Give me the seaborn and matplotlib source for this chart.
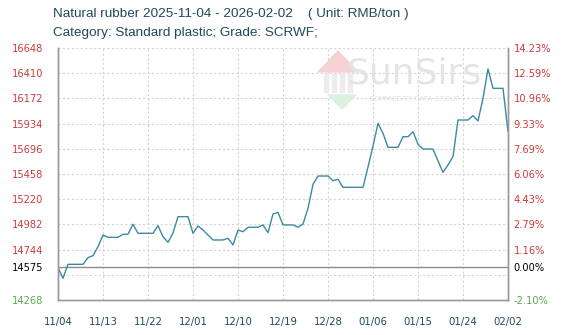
import matplotlib
matplotlib.use("Agg")
import matplotlib.pyplot as plt
import seaborn as sns
import pandas as pd
from matplotlib.patches import Polygon, Rectangle

# ---------------- data ----------------
start_date = "2025-11-04"
end_date = "2026-02-02"
prices = [
    14575, 14473, 14605, 14605, 14605, 14605, 14668, 14687, 14771, 14882,
    14860, 14860, 14860, 14889, 14889, 14983, 14898, 14898, 14898, 14898,
    14970, 14866, 14813, 14900, 15055, 15055, 15055, 14898, 14967, 14929,
    14882, 14835, 14835, 14835, 14851, 14788, 14929, 14913, 14955, 14955,
    14955, 14977, 14904, 15080, 15096, 14977, 14977, 14977, 14955, 14985,
    15134, 15360, 15439, 15439, 15439, 15395, 15408, 15332, 15332, 15332,
    15332, 15332, 15524, 15723, 15937, 15842, 15710, 15710, 15710, 15810,
    15810, 15858, 15739, 15694, 15694, 15694, 15581, 15474, 15543, 15622,
    15968, 15968, 15968, 16009, 15959, 16173, 16450, 16267, 16267, 16267,
    15858,
]
x_tick_labels = ["11/04", "11/13", "11/22", "12/01", "12/10", "12/19",
                 "12/28", "01/06", "01/15", "01/24", "02/02"]
left_tick_values = [16648, 16410, 16172, 15934, 15696, 15458, 15220,
                    14982, 14744, 14575, 14268]
left_tick_labels = ["16648", "16410", "16172", "15934", "15696", "15458",
                    "15220", "14982", "14744", "14575", "14268"]
right_tick_labels = ["14.23%", "12.59%", "10.96%", "9.33%", "7.69%", "6.06%",
                     "4.43%", "2.79%", "1.16%", "0.00%", "-2.10%"]
grid_values = [16648, 16410, 16172, 15934, 15696, 15458, 15220,
               14982, 14744, 14506]
base_price = 14575
title_line1 = "Natural rubber 2025-11-04 - 2026-02-02    ( Unit: RMB/ton )"
title_line2 = "Category: Standard plastic; Grade: SCRWF;"

# ---------------- style ----------------
sns.set_style("white")
plt.rcParams["font.family"] = ["DejaVu Sans"]

RED = "#cc3a3a"
GREEN = "#5aa84e"
TXT = "#1f4a5c"
LINE = "#3b8aa2"
GRID = "#d4d4d4"

W, H = 568, 335
fig = plt.figure(figsize=(W / 100, H / 100), dpi=100)
L, R, T, B = 58, 508, 48, 300
ax = fig.add_axes([L / W, 1 - B / H, (R - L) / W, (B - T) / H])

dates = pd.date_range(start_date, end_date, freq="D")
df = pd.DataFrame({"day": range(len(prices)), "price": prices})

# watermark (decorative)
fig.patches.append(Polygon([[318 / W, 1 - 72 / H], [338 / W, 1 - 51 / H], [358 / W, 1 - 72 / H]],
                           closed=True, transform=fig.transFigure, color="#f6d3d3", zorder=0))
for i in range(4):
    fig.patches.append(Rectangle(((324 + i * 8) / W, 1 - 92 / H), 4 / W, 18 / H,
                                 transform=fig.transFigure, color="#ececec", zorder=0))
fig.patches.append(Polygon([[328 / W, 1 - 95 / H], [356 / W, 1 - 95 / H], [342 / W, 1 - 109 / H]],
                           closed=True, transform=fig.transFigure, color="#ddefdd", zorder=0))
fig.text(414 / W, 1 - 74 / H, "SunSirs", fontsize=26, color="#e4e4e4",
         ha="center", va="center", zorder=0)
fig.text(414 / W, 1 - 99 / H, "COMMODITY DATA GROUP", fontsize=5, color="#e2e2e2",
         ha="center", va="center", zorder=0)

# grid
for g in grid_values:
    ax.axhline(g, color=GRID, lw=0.8, ls=(0, (2, 2)), zorder=1)
for xi in range(0, len(prices), 9):
    ax.axvline(xi, color=GRID, lw=0.8, ls=(0, (2, 2)), zorder=1)
ax.axhline(base_price, color="#8c8c8c", lw=1.0, zorder=2)

sns.lineplot(data=df, x="day", y="price", ax=ax, color=LINE, lw=1.0, zorder=3)
ax.patch.set_alpha(0)

ax.set_xlim(0, len(prices) - 1)
ax.set_ylim(14268, 16648)
ax.set_xlabel("")
ax.set_ylabel("")

ax.set_xticks(list(range(0, len(prices), 9)))
ax.set_xticklabels(x_tick_labels, fontsize=7.3, color=TXT)
ax.tick_params(axis="x", direction="in", length=4, color="#999999", pad=12)
ax.set_yticks(left_tick_values)
ax.set_yticklabels(left_tick_labels, fontsize=7.1)
ax.tick_params(axis="y", length=0, pad=10.8)
for lbl, v in zip(ax.get_yticklabels(), left_tick_values):
    lbl.set_color("black" if v == base_price else (GREEN if v < base_price else RED))

ax2 = ax.twinx()
ax2.set_ylim(ax.get_ylim())
ax2.set_yticks(left_tick_values)
ax2.set_yticklabels(right_tick_labels, fontsize=7.1)
ax2.tick_params(axis="y", length=0, pad=4)
for lbl, v in zip(ax2.get_yticklabels(), left_tick_values):
    lbl.set_color("black" if v == base_price else (GREEN if v < base_price else RED))

for a in (ax, ax2):
    for s in ["left", "right", "bottom"]:
        a.spines[s].set_color("#9a9a9a")
        a.spines[s].set_linewidth(1.0)
    a.spines["top"].set_visible(False)

fig.text(53 / W, 1 - 14 / H, title_line1, fontsize=9.7, color=TXT, ha="left", va="center",
         family="Liberation Sans")
fig.text(53 / W, 1 - 33 / H, title_line2, fontsize=9.7, color=TXT, ha="left", va="center",
         family="Liberation Sans")

fig.savefig("out.png", dpi=100, facecolor="white")
